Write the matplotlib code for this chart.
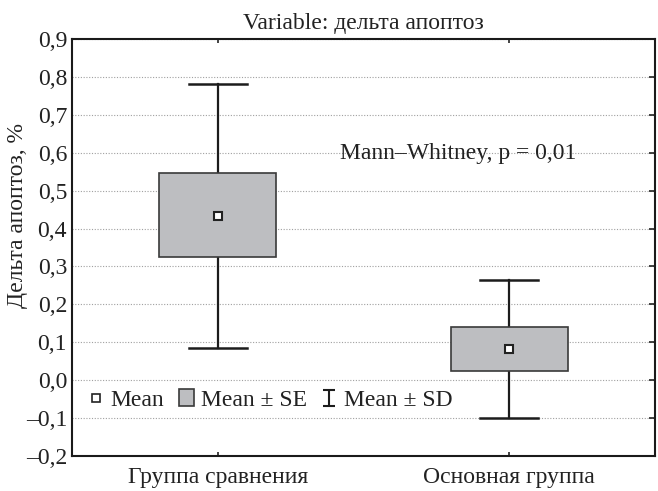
import matplotlib
matplotlib.use('Agg')
import matplotlib.pyplot as plt
from matplotlib.patches import Patch
from matplotlib.lines import Line2D
from matplotlib.path import Path
from matplotlib.ticker import FuncFormatter

plt.rcParams['font.family'] = ['Liberation Serif', 'DejaVu Serif']

groups = ['Группа сравнения', 'Основная группа']
means = [0.433, 0.082]
se_low = [0.326, 0.024]
se_high = [0.546, 0.139]
sd_low = [0.084, -0.101]
sd_high = [0.781, 0.265]

box_color = '#bdbec1'
edge_color = '#3a3a3a'
line_color = '#1c1c1c'

fig = plt.figure(figsize=(6.58, 4.91), dpi=100)
ax = fig.add_axes([0.1094, 0.0713, 0.886, 0.8493])

pos = [1, 2]
# whiskers (Mean +- SD)
for i, p in enumerate(pos):
    ax.plot([p, p], [sd_low[i], sd_high[i]], color=line_color, lw=1.6, zorder=2)
    ax.plot([p - 0.1, p + 0.1], [sd_low[i]] * 2, color=line_color, lw=1.8, zorder=2)
    ax.plot([p - 0.1, p + 0.1], [sd_high[i]] * 2, color=line_color, lw=1.8, zorder=2)

# boxes (Mean +- SE)
heights = [h - l for h, l in zip(se_high, se_low)]
ax.bar(pos, heights, bottom=se_low, width=0.4, color=box_color,
       edgecolor=edge_color, linewidth=1.2, zorder=3)

# means
ax.plot(pos, means, linestyle='none', marker='s', markersize=5.5,
        markerfacecolor='white', markeredgecolor='#222222', markeredgewidth=1.5, zorder=4)

ax.set_xlim(0.5, 2.5)
ax.set_ylim(-0.2, 0.9)
ax.set_yticks([-0.2, -0.1, 0.0, 0.1, 0.2, 0.3, 0.4, 0.5, 0.6, 0.7, 0.8, 0.9])
ax.yaxis.set_major_formatter(FuncFormatter(
    lambda v, _: f'{v:.1f}'.replace('.', ',').replace('-', '–')))
ax.set_xticks(pos)
ax.set_xticklabels(groups)
ax.tick_params(axis='both', labelsize=17, colors='#222222')
ax.tick_params(axis='y', direction='in', left=False, right=True, length=4, width=1.2)
ax.tick_params(axis='x', direction='in', top=True, bottom=True, length=3, width=1.2, pad=8)

for s in ax.spines.values():
    s.set_linewidth(1.5)
    s.set_color('#1a1a1a')

ax.grid(axis='y', linestyle=(0, (1, 1.5)), color='#a0a0a0', linewidth=0.8)
ax.set_axisbelow(True)

ax.set_title('Variable: дельта апоптоз', fontsize=17, pad=7, color='#222222')
ax.set_ylabel('Дельта апоптоз, %', fontsize=17, color='#222222')
ax.yaxis.set_label_coords(-0.076, 0.576)

ax.text(0.46, 0.725, 'Mann–Whitney, p = 0,01', transform=ax.transAxes,
        fontsize=17, color='#222222', va='center')

# whisker-like legend symbol
sd_marker = Path([(-0.7, -1), (0.7, -1), (0, -1), (0, 1), (-0.7, 1), (0.7, 1)],
                 [Path.MOVETO, Path.LINETO, Path.MOVETO, Path.LINETO, Path.MOVETO, Path.LINETO])

handles = [
    Line2D([], [], linestyle='none', marker='s', markersize=5.5,
           markerfacecolor='white', markeredgecolor='#222222', markeredgewidth=1.2),
    Patch(facecolor=box_color, edgecolor=edge_color, linewidth=1.2),
    Line2D([], [], linestyle='none', marker=sd_marker, markersize=12,
           markerfacecolor='none', markeredgecolor=line_color, markeredgewidth=1.5),
]
ax.legend(handles, ['Mean', 'Mean ± SE', 'Mean ± SD'], loc='center left',
          bbox_to_anchor=(0.028, 0.134), ncol=3, frameon=False, fontsize=17,
          handlelength=0.65, handletextpad=0.3, columnspacing=0.6, borderpad=0,
          borderaxespad=0, labelcolor='#222222')

fig.savefig('out.png', dpi=100)
